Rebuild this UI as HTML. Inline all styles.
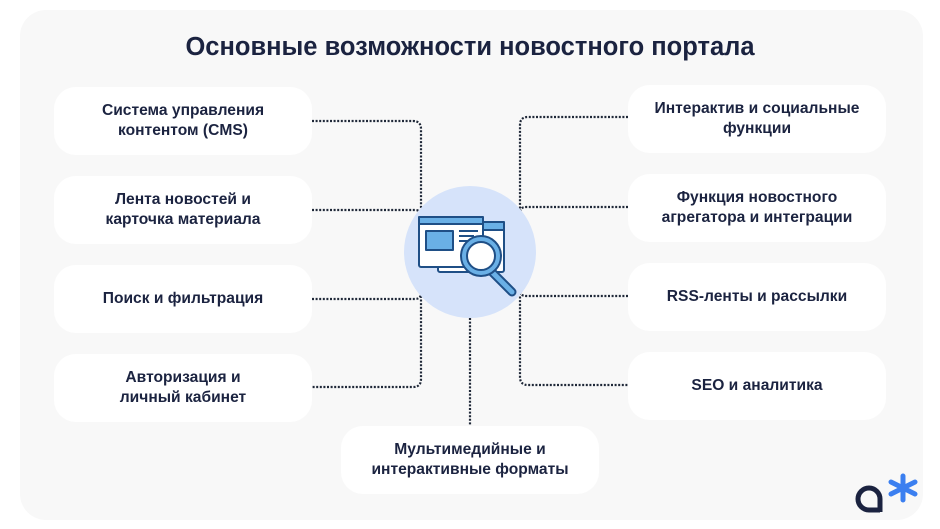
<!DOCTYPE html>
<html><head><meta charset="utf-8"><style>
body{margin:0;width:940px;height:529px;background:#fff;font-family:"Liberation Sans",sans-serif;position:relative;overflow:hidden}
.panel{position:absolute;left:20px;top:10px;width:903px;height:510px;background:#f8f8f8;border-radius:26px}
.t{position:absolute;left:0;width:940px;top:33px;text-align:center;font-size:25.5px;font-weight:bold;color:#1b2340}
.b{position:absolute;width:258px;height:68px;background:#fff;border-radius:22px;display:flex;align-items:center;justify-content:center;text-align:center;font-size:15.6px;font-weight:bold;color:#1b2340;line-height:20px}
svg{position:absolute;left:0;top:0}
</style></head><body>
<div class="panel"></div>
<div class="t">Основные возможности новостного портала</div>
<svg width="940" height="529">
<g fill="none" stroke="#1f2838" stroke-width="2.2" stroke-dasharray="2 1.6">
<path d="M312 121H413q8 0 8 8V379q0 8-8 8H312"/>
<path d="M312 210H415q6 0 6 6"/>
<path d="M312 299H415q6 0 6-6"/>
<path d="M628 117H528q-8 0-8 8V377q0 8 8 8H628"/>
<path d="M628 207H526q-6 0-6 6"/>
<path d="M628 296H526q-6 0-6-6"/>
<path d="M470 300V426"/>
</g>
<circle cx="470" cy="252" r="66" fill="#d6e3fa"/>
<g stroke="#1f4f86" stroke-width="2" stroke-linejoin="round">
<rect x="438" y="222" width="66" height="50" rx="2" fill="#fff"/>
<rect x="438" y="222" width="66" height="8" fill="#6ab0e6"/>
<rect x="419" y="217" width="64" height="50" rx="2" fill="#fff"/>
<rect x="419" y="217" width="64" height="7" fill="#6ab0e6"/>
<rect x="426" y="231" width="27" height="19" fill="#6ab0e6"/>
<path d="M459 231H478M459 236H474M459 241H470" />
<path d="M492 272L512 292" stroke="#1f4f86" stroke-width="9" stroke-linecap="round"/>
<path d="M492 272L512 292" stroke="#6ab0e6" stroke-width="5" stroke-linecap="round"/>
<circle cx="481" cy="256" r="20" fill="#6ab0e6"/>
<circle cx="481" cy="256" r="14" fill="#fff"/>
</g>
<g fill="none" stroke="#1b2340" stroke-width="5">
<path d="M880 512V499a11 11 0 1 0-11 11h11"/>
</g>
<g stroke="#3b7ff0" stroke-width="5" stroke-linecap="round">
<path d="M903 476V500M891 482L915 494M915 482L891 494"/>
</g>
</svg>
<div class="b" style="left:54px;top:87px">Система управления<br>контентом (CMS)</div>
<div class="b" style="left:54px;top:176px">Лента новостей и<br>карточка материала</div>
<div class="b" style="left:54px;top:265px">Поиск и фильтрация</div>
<div class="b" style="left:54px;top:354px">Авторизация и<br>личный кабинет</div>
<div class="b" style="left:628px;top:85px">Интерактив и социальные<br>функции</div>
<div class="b" style="left:628px;top:174px">Функция новостного<br>агрегатора и интеграции</div>
<div class="b" style="left:628px;top:263px">RSS-ленты и рассылки</div>
<div class="b" style="left:628px;top:352px">SEO и аналитика</div>
<div class="b" style="left:341px;top:426px">Мультимедийные и<br>интерактивные форматы</div>
</body></html>
